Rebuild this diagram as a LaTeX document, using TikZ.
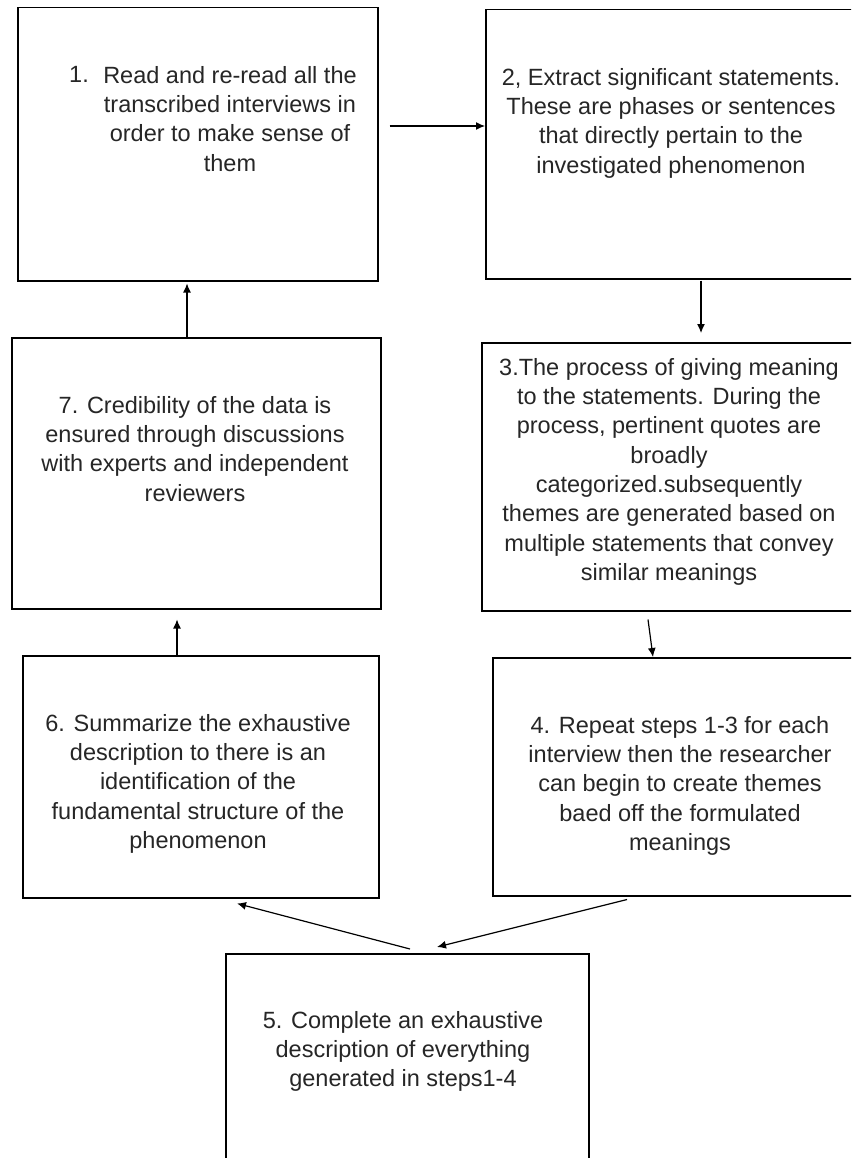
\documentclass[tikz,border=0pt]{standalone}
\usepackage{fontspec}
\setmainfont{Liberation Sans}
\usetikzlibrary{calc}
\usetikzlibrary{arrows.meta}

\begin{document}
\begin{tikzpicture}[x=1pt,y=-1pt,
  stepbox/.style={draw=black,line width=1.5pt,inner sep=0pt,anchor=north west},
  steptext/.style={font=\fontsize{23.5}{29.3}\selectfont,align=center,inner sep=0pt,anchor=north,text=black!85},
  flow/.style={black,line width=1.2pt,-{Latex[length=9pt,width=8pt]}}]
\useasboundingbox (0,0) rectangle (851,1158);
\clip (0,0) rectangle (851,1158);
\fill[white] (0,0) rectangle (851,1158);
% boxes (2,3,4 and 5 run off the page)
\node[stepbox,minimum width=360pt,minimum height=273pt] (b1) at (17,7) {};
\node[stepbox,minimum width=420pt,minimum height=269pt] (b2) at (485,9) {};
\node[stepbox,minimum width=420pt,minimum height=268pt] (b3) at (481,342) {};
\node[stepbox,minimum width=420pt,minimum height=238pt] (b4) at (492,657) {};
\node[stepbox,minimum width=363pt,minimum height=260pt] (b5) at (225,953) {};
\node[stepbox,minimum width=356pt,minimum height=242pt] (b6) at (22,655) {};
\node[stepbox,minimum width=369pt,minimum height=271pt] (b7) at (11,337) {};
% texts
\node[steptext,anchor=base west] (n1) at (69,83) {1.};
\node[steptext] (t1) at (230,66) {Read and re-read all the\\transcribed interviews in\\order to make sense of\\them};
\node[steptext] (t2) at (671,68) {2, Extract significant statements.\\These are phases or sentences\\that directly pertain to the\\investigated phenomenon};
\node[steptext] (t3) at (669,358) {3.The process of giving meaning\\to the statements. During the\\process, pertinent quotes are\\broadly\\categorized.subsequently\\themes are generated based on\\multiple statements that convey\\similar meanings};
\node[steptext] (t4) at (680,716) {4. Repeat steps 1-3 for each\\interview then the researcher\\can begin to create themes\\baed off the formulated\\meanings};
\node[steptext] (t5) at (403,1011) {5. Complete an exhaustive\\description of everything\\generated in steps1-4};
\node[steptext] (t6) at (198,714) {6. Summarize the exhaustive\\description to there is an\\identification of the\\fundamental structure of the\\phenomenon};
\node[steptext] (t7) at (195,396) {7. Credibility of the data is\\ensured through discussions\\with experts and independent\\reviewers};
% arrows
\draw[flow] ($(b1.north east)+(11,119)$) -- ($(b2.north west)+(0,117)$);
\draw[flow] ($(b2.south west)+(216,1)$) -- ($(b3.north west)+(220,-9)$);
\draw[flow] ($(b3.south west)+(167,8)$) -- ($(b4.north west)+(161,0)$);
\draw[flow] ($(b4.south west)+(135,3)$) -- ($(b5.north west)+(212,-6)$);
\draw[flow] ($(b5.north west)+(185,-4)$) -- ($(b6.south west)+(215,5)$);
\draw[flow] ($(b6.north west)+(155,0)$) -- ($(b7.south west)+(166,10)$);
\draw[flow] ($(b7.north west)+(176,0)$) -- ($(b1.south west)+(170,2)$);
\end{tikzpicture}
\end{document}
